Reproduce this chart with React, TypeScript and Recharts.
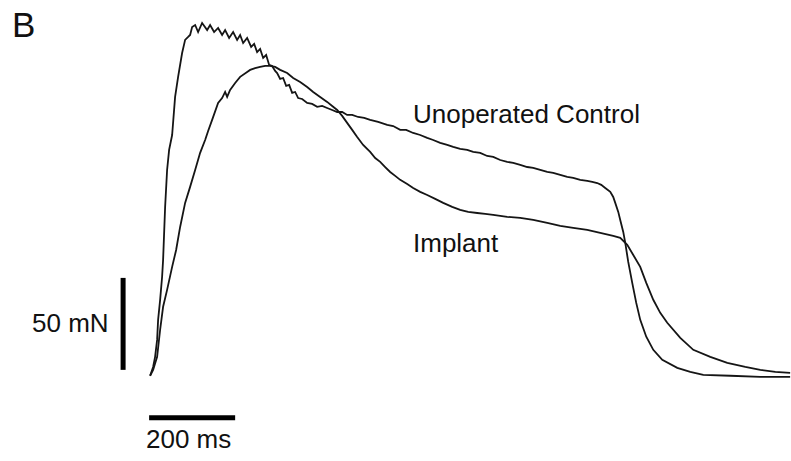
import { LineChart, Line, XAxis, YAxis, ReferenceLine } from "recharts";

// time (ms) / force (mN) samples
const controlTime = [
  0, 7, 11.6, 16.3, 18.6, 23.3, 27.9, 30.2, 34.9, 39.5, 44.2, 51.2, 58.1, 65.1, 74.4, 81.4, 88.4, 93,
  97.7, 104.7, 111.6, 120.9, 132.6, 139.5, 148.8, 158.1, 167.4, 174.4, 183.7, 193, 202.3, 209.3, 216.3,
  225.6, 234.9, 241.9, 248.8, 255.8, 262.8, 269.8, 276.7, 283.7, 290.7, 295.3, 302.3, 309.3, 316.3, 323.3,
  330.2, 337.2, 344.2, 353.5, 365.1, 376.7, 388.4, 400, 411.6, 423.3, 434.9, 446.5, 458.1, 469.8, 483.7,
  497.7, 511.6, 530.2, 551.2, 565.1, 581.4, 595.3, 611.6, 627.9, 644.2, 658.1, 674.4, 690.7, 704.7, 720.9,
  737.2, 751.2, 767.4, 783.7, 797.7, 814, 830.2, 844.2, 860.5, 876.7, 890.7, 907, 923.3, 937.2, 953.5,
  969.8, 983.7, 1000, 1016.3, 1027.9, 1039.5, 1048.8, 1058.1, 1069.8, 1076.7, 1081.4, 1088.4, 1093, 1100,
  1104.7, 1111.6, 1120.9, 1130.2, 1139.5, 1153.5, 1169.8, 1190.7, 1225.6, 1255.8, 1286, 1348.8, 1418.6,
  1488,
];
const controlForce = [
  -0.5, 4.3, 9.8, 19, 29.9, 40.8, 53.3, 62.5, 91.3, 111.4, 122.3, 130.4, 151.1, 162, 175, 182.1, 183.7,
  184.8, 189.1, 190.2, 186.4, 191.3, 187.5, 190.2, 186.4, 188.6, 184.8, 187.5, 183.2, 186.4, 182.1, 184.8,
  180.4, 183.2, 178.3, 179.9, 175.5, 177.2, 172.3, 173.9, 168.5, 167.9, 165.2, 164.1, 160.9, 161.4, 157.1,
  157.6, 153.3, 153.8, 150.5, 150, 147.8, 147.3, 145.7, 146.2, 145.1, 144, 142.9, 142.9, 141.3, 141.3,
  140.2, 139.7, 138.6, 137.5, 135.9, 135.3, 133.2, 133.2, 131.5, 130.4, 128.8, 127.7, 126.1, 125, 123.9,
  122.8, 122.3, 121.2, 120.7, 119, 118.5, 116.8, 115.8, 115.2, 114.1, 113, 112.5, 111.4, 110.3, 109.8,
  108.7, 107.6, 107.1, 106, 105.4, 104.9, 104.3, 103.3, 101.6, 99.5, 96.7, 93.5, 88.6, 84.2, 77.7, 71.7,
  61.4, 50, 39.1, 29.9, 20.7, 13.6, 8.2, 3.8, 1.6, 0, -0.5, -1.1, -1.1,
];

const implantTime = [
  0, 7, 16.3, 23.3, 30.2, 39.5, 51.2, 60.5, 69.8, 81.4, 93, 104.7, 116.3, 127.9, 134.9, 144.2, 158.1,
  167.4, 174.4, 179.1, 186, 197.7, 209.3, 225.6, 232.6, 244.2, 255.8, 267.4, 279.1, 290.7, 302.3, 318.6,
  332.6, 348.8, 365.1, 379.1, 395.3, 411.6, 423.3, 434.9, 446.5, 458.1, 469.8, 481.4, 495.3, 511.6, 523.3,
  534.9, 546.5, 558.1, 569.8, 581.4, 597.7, 611.6, 627.9, 644.2, 662.8, 681.4, 702.3, 720.9, 739.5, 760.5,
  779.1, 797.7, 830.2, 860.5, 890.7, 923.3, 953.5, 983.7, 1016.3, 1046.5, 1076.7, 1093, 1109.3, 1123.3,
  1139.5, 1153.5, 1169.8, 1186, 1202.3, 1232.6, 1262.8, 1302.3, 1341.9, 1383.7, 1418.6, 1453.5, 1488,
];
const implantForce = [
  -0.5, 2.7, 9.8, 24.5, 37, 46.2, 58.7, 67.9, 80.4, 93.5, 102.2, 111.4, 120.7, 127.7, 132.6, 138.6, 147.8,
  150.5, 153.8, 151.1, 154.9, 158.7, 162, 164.7, 165.8, 166.8, 167.4, 168, 168, 167.4, 165.8, 164.1, 161.4,
  159.2, 156.5, 153.8, 151.1, 148.4, 146.2, 144, 140.8, 137, 133.2, 129.3, 125, 121.2, 117.9, 115.8, 113,
  110.3, 108.2, 106, 103.8, 101.6, 99.5, 97.8, 95.7, 93.5, 91.3, 89.7, 88.6, 88, 87.5, 87, 85.9, 85.3,
  84.2, 82.6, 81, 79.9, 78.8, 77.2, 75.5, 74.5, 70.7, 65.2, 58.7, 50, 40.8, 33.7, 28.3, 20.1, 13.6, 9.8,
  6.5, 4.3, 2.7, 1.6, 1.1,
];

const controlData = controlTime.map((t, i) => ({ t, f: controlForce[i] }));
const implantData = implantTime.map((t, i) => ({ t, f: implantForce[i] }));

const textStyle = { fontFamily: "'Liberation Sans', Arial, sans-serif", fill: "#111" };

export default function App() {
  return (
    <div style={{ position: "absolute", left: 0, top: 0, width: 791, height: 461, background: "#fff" }}>
      <LineChart width={791} height={461} margin={{ top: 7, right: 0, bottom: 31, left: 120 }}>
        <XAxis type="number" dataKey="t" domain={[-70, 1490]} hide allowDuplicatedCategory={false} />
        <YAxis type="number" dataKey="f" domain={[-30, 200]} hide />
        {/* scale bars: 50 mN and 200 ms */}
        <ReferenceLine
          segment={[
            { x: -62.8, y: 2.7 },
            { x: -62.8, y: 52.7 },
          ]}
          stroke="#000"
          strokeWidth={5}
          ifOverflow="visible"
        />
        <ReferenceLine
          segment={[
            { x: -2.3, y: -23.4 },
            { x: 197.7, y: -23.4 },
          ]}
          stroke="#000"
          strokeWidth={5}
          ifOverflow="visible"
        />
        <Line
          data={controlData}
          dataKey="f"
          type="linear"
          stroke="#151515"
          strokeWidth={1.8}
          dot={false}
          isAnimationActive={false}
        />
        <Line
          data={implantData}
          dataKey="f"
          type="linear"
          stroke="#151515"
          strokeWidth={1.8}
          dot={false}
          isAnimationActive={false}
        />
      </LineChart>
      <svg width={791} height={461} style={{ position: "absolute", left: 0, top: 0, pointerEvents: "none" }}>
        <text x={12} y={37} fontSize={35} style={textStyle}>B</text>
        <text x={413} y={123} fontSize={26} style={textStyle}>Unoperated Control</text>
        <text x={413} y={252} fontSize={26} style={textStyle}>Implant</text>
        <text x={32} y={332} fontSize={26} style={textStyle}>50 mN</text>
        <text x={146} y={448} fontSize={26} style={textStyle}>200 ms</text>
      </svg>
    </div>
  );
}
